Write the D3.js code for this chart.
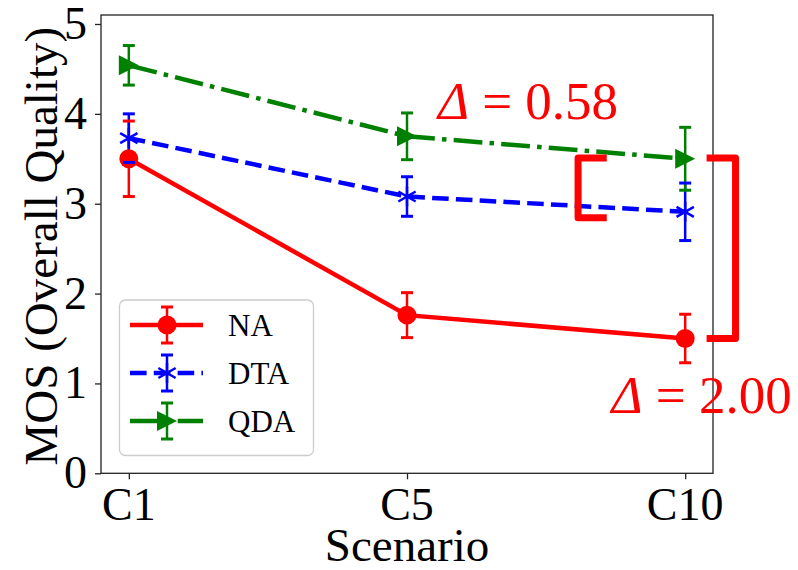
<!DOCTYPE html>
<html><head><meta charset="utf-8"><script src="https://cdn.jsdelivr.net/npm/d3@7"></script></head>
<body style="margin:0">
<svg id="s" width="798" height="570"></svg>
<script>
// ---------- data ----------
const categories = ["C1", "C5", "C10"];
const seriesNames = ["NA", "DTA", "QDA"];
const naMean  = [3.50, 1.76, 1.50];
const naErr   = [0.42, 0.25, 0.27];
const dtaMean = [3.73, 3.08, 2.91];
const dtaErr  = [0.27, 0.22, 0.32];
const qdaMean = [4.54, 3.75, 3.50];
const qdaErr  = [0.22, 0.26, 0.35];
const yTicks  = [0, 1, 2, 3, 4, 5];
const yDomain = [0, 5.1];
// annotation brackets: [vertical x, arm-end x, y top, y bottom] in data units (x = category index)
const smallBracket = [1.615, 1.718, 3.51, 2.845];
const bigBracket   = [2.181, 2.077, 3.51, 1.50];
const deltaLabels  = [
  { text: "0.58", x: 1.111, y: 3.94 },
  { text: "2.00", x: 1.735, y: 0.667 }
];

// ---------- layout ----------
const FONT = "Liberation Serif";
const svg = d3.select("#s");
const L = 101, R = 713, T = 15, B = 473.3;
const x = d3.scaleLinear().domain([-0.1, categories.length - 1 + 0.1]).range([L, R]);
const y = d3.scaleLinear().domain(yDomain).range([B, T]);

const colors = { NA: "#ff0000", DTA: "#0000ff", QDA: "#008000" };
const series = [
  { name: "NA",  mean: naMean,  err: naErr,  dash: null,               marker: "circle" },
  { name: "DTA", mean: dtaMean, err: dtaErr, dash: "16.6,7.2",         marker: "asterisk" },
  { name: "QDA", mean: qdaMean, err: qdaErr, dash: "28.8,7.2,4.5,7.2", marker: "triangle" }
];
const lw = 4.5;

function txt(sel, size) {
  return sel.attr("font-size", size).attr("font-family", FONT);
}

// ---------- axes (ticks via d3 axis, labels as plain text) ----------
const yAxis = d3.axisLeft(y).tickValues(yTicks).tickFormat("").tickSize(6);
const xAxis = d3.axisBottom(x).tickValues(d3.range(categories.length)).tickFormat("").tickSize(6);
const gy = svg.append("g").attr("transform", `translate(${L},0)`).call(yAxis);
gy.select(".domain").remove();
gy.selectAll("line").attr("stroke", "#222").attr("stroke-width", 1.3);
const gx = svg.append("g").attr("transform", `translate(0,${B})`).call(xAxis);
gx.select(".domain").remove();
gx.selectAll("line").attr("stroke", "#222").attr("stroke-width", 1.3);

yTicks.forEach(v => {
  txt(svg.append("text"), 46).attr("x", L - 14).attr("y", y(v) + 15).attr("text-anchor", "end").text(String(v));
});
categories.forEach((c, i) => {
  txt(svg.append("text"), 46).attr("x", x(i)).attr("y", B + 47).attr("text-anchor", "middle").text(c);
});

// frame
svg.append("rect").attr("x", L).attr("y", T).attr("width", R - L).attr("height", B - T)
  .attr("fill", "none").attr("stroke", "#222").attr("stroke-width", 1.3);

// axis titles
txt(svg.append("text"), 47).attr("x", (L + R) / 2).attr("y", 561).attr("text-anchor", "middle").text("Scenario");
txt(svg.append("text"), 47).attr("transform", `translate(57,${(T + B) / 2 + 2}) rotate(-90)`)
  .attr("text-anchor", "middle").text("MOS (Overall Quality)");

// ---------- marker drawing ----------
function drawMarker(g, type, cx, cy, color) {
  if (type === "circle") {
    g.append("circle").attr("cx", cx).attr("cy", cy).attr("r", 9.5).attr("fill", color);
  } else if (type === "triangle") {
    const s = 10;
    g.append("path").attr("d", `M${cx + s},${cy} L${cx - s},${cy - s} L${cx - s},${cy + s} Z`).attr("fill", color);
  } else if (type === "asterisk") {
    const s = 10;
    const p = [];
    [90, 30, 150].forEach(a => {
      const r = a * Math.PI / 180;
      p.push(`M${cx - s * Math.cos(r)},${cy + s * Math.sin(r)} L${cx + s * Math.cos(r)},${cy - s * Math.sin(r)}`);
    });
    g.append("path").attr("d", p.join(" ")).attr("stroke", color).attr("stroke-width", 2.5).attr("fill", "none");
  }
}
function drawErrBar(g, cx, y0, y1, color) {
  g.append("line").attr("x1", cx).attr("x2", cx).attr("y1", y0).attr("y2", y1)
    .attr("stroke", color).attr("stroke-width", 2.5);
}
function drawCaps(g, cx, y0, y1, color) {
  [y0, y1].forEach(yy => g.append("line").attr("x1", cx - 6).attr("x2", cx + 6).attr("y1", yy).attr("y2", yy)
    .attr("stroke", color).attr("stroke-width", 3));
}

const plot = svg.append("g");
series.forEach(s => {
  s.mean.forEach((m, i) => {
    drawErrBar(plot, x(i), y(m + s.err[i]), y(m - s.err[i]), colors[s.name]);
  });
});
series.forEach(s => {
  const line = d3.line().x((d, i) => x(i)).y(d => y(d));
  plot.append("path").datum(s.mean).attr("d", line).attr("fill", "none")
    .attr("stroke", colors[s.name]).attr("stroke-width", lw)
    .attr("stroke-dasharray", s.dash);
  s.mean.forEach((m, i) => {
    drawMarker(plot, s.marker, x(i), y(m), colors[s.name]);
    drawCaps(plot, x(i), y(m + s.err[i]), y(m - s.err[i]), colors[s.name]);
  });
});

// ---------- brackets & labels ----------
const ann = svg.append("g");
function bracket(b) {
  const [vx, ax, yt, yb] = b;
  ann.append("path")
    .attr("d", `M${x(ax)},${y(yt)} L${x(vx)},${y(yt)} L${x(vx)},${y(yb)} L${x(ax)},${y(yb)}`)
    .attr("fill", "none").attr("stroke", "#ff0000").attr("stroke-width", 7)
    .attr("stroke-linejoin", "round");
}
bracket(smallBracket);
bracket(bigBracket);
deltaLabels.forEach(d => {
  const t = txt(ann.append("text"), 53).attr("x", x(d.x)).attr("y", y(d.y)).attr("fill", "#ff0000");
  t.append("tspan").attr("font-style", "italic").text("Δ");
  t.append("tspan").text(" = " + d.text);
});

// ---------- legend ----------
const lg = svg.append("g");
lg.append("rect").attr("x", 119.5).attr("y", 300).attr("width", 194).attr("height", 155.5)
  .attr("rx", 6).attr("fill", "#fff").attr("fill-opacity", 0.8)
  .attr("stroke", "#cccccc").attr("stroke-width", 1.3);
const legY = [325, 373, 421];
series.forEach((s, k) => {
  const yy = legY[k];
  const c = colors[s.name];
  lg.append("line").attr("x1", 130).attr("x2", 203).attr("y1", yy).attr("y2", yy)
    .attr("stroke", c).attr("stroke-width", lw).attr("stroke-dasharray", s.dash);
  drawErrBar(lg, 167, yy - 18, yy + 18, c);
  drawMarker(lg, s.marker, 167, yy, c);
  drawCaps(lg, 167, yy - 18, yy + 18, c);
  txt(lg.append("text"), 31).attr("x", 228).attr("y", yy + 11).text(seriesNames[k]);
});
</script>
</body>
</html>
